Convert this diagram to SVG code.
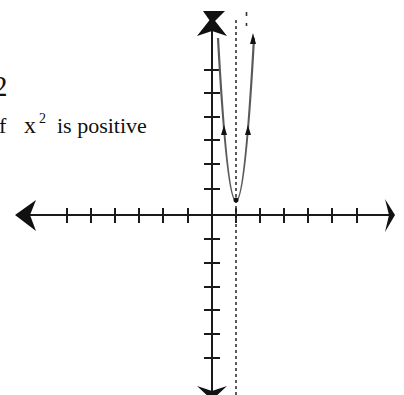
<svg xmlns="http://www.w3.org/2000/svg" width="404" height="395" viewBox="0 0 404 395">
<style>
.ax{stroke:#1a1a1a;stroke-width:2;fill:none}
.tk{stroke:#1a1a1a;stroke-width:2}
.ah{fill:#111;stroke:none}
.dash{stroke:#333;stroke-width:1.6;stroke-dasharray:3 3;fill:none}
.par{stroke:#5a5a5a;stroke-width:2.2;fill:none}
.t{font-family:"Liberation Serif","Times New Roman",serif;fill:#111;font-size:22px}
</style>
<rect width="404" height="395" fill="#fff"/>
<g id="labels">
<text class="t" x="-7" y="96" style="font-size:29px">2</text>
<text class="t" x="-1" y="133">f</text>
<text class="t" x="24" y="133" style="font-size:24px">x</text>
<text class="t" x="39" y="123" style="font-size:14px">2</text>
<text class="t" x="57" y="133">is positive</text>
</g>
<g id="axes">
<line class="ax" x1="22" y1="215" x2="390" y2="215"/>
<line class="ax" x1="212" y1="25" x2="212" y2="392"/>
<polygon class="ah" points="15,215 36,200 30,215 36,231"/>
<polygon class="ah" points="395,215 385,199 389,215 385,232"/>
<polygon class="ah" points="212,400 197,386 212,391 227,386"/>
<polygon class="ah" points="203,11 225,11 215,21 210,21"/>
<polygon class="ah" points="212,17 197,36 212,31 227,36"/>
</g>
<g id="ticks">
<path class="tk" d="M67,208V223M91,208V223M115,208V223M139,208V223M163,208V223M188,208V223M236,208V223M260,208V223M284,208V223M308,208V223M332,208V223M357,208V223"/>
<path class="tk" d="M204,70H220M204,93H220M204,117H220M204,140H220M204,164H220M204,189H220M204,239H220M204,263H220M204,287H220M204,310H220M204,334H220M204,358H220"/>
</g>
<g id="asymptote">
<line class="dash" x1="236" y1="20" x2="236" y2="395"/>
<line class="dash" x1="246.5" y1="12" x2="246.5" y2="26" style="stroke-dasharray:4 7"/>
</g>
<g id="curve">
<path class="par" d="M218,38 Q236,364 254,38"/>
<polygon class="ah" points="253,33 250,44 256,44"/>
<polygon class="ah" points="224,125 221,135 227,135"/>
<polygon class="ah" points="248,125 245,135 251,135"/>
<circle class="ah" cx="236" cy="200" r="2.5"/>
</g>
</svg>
